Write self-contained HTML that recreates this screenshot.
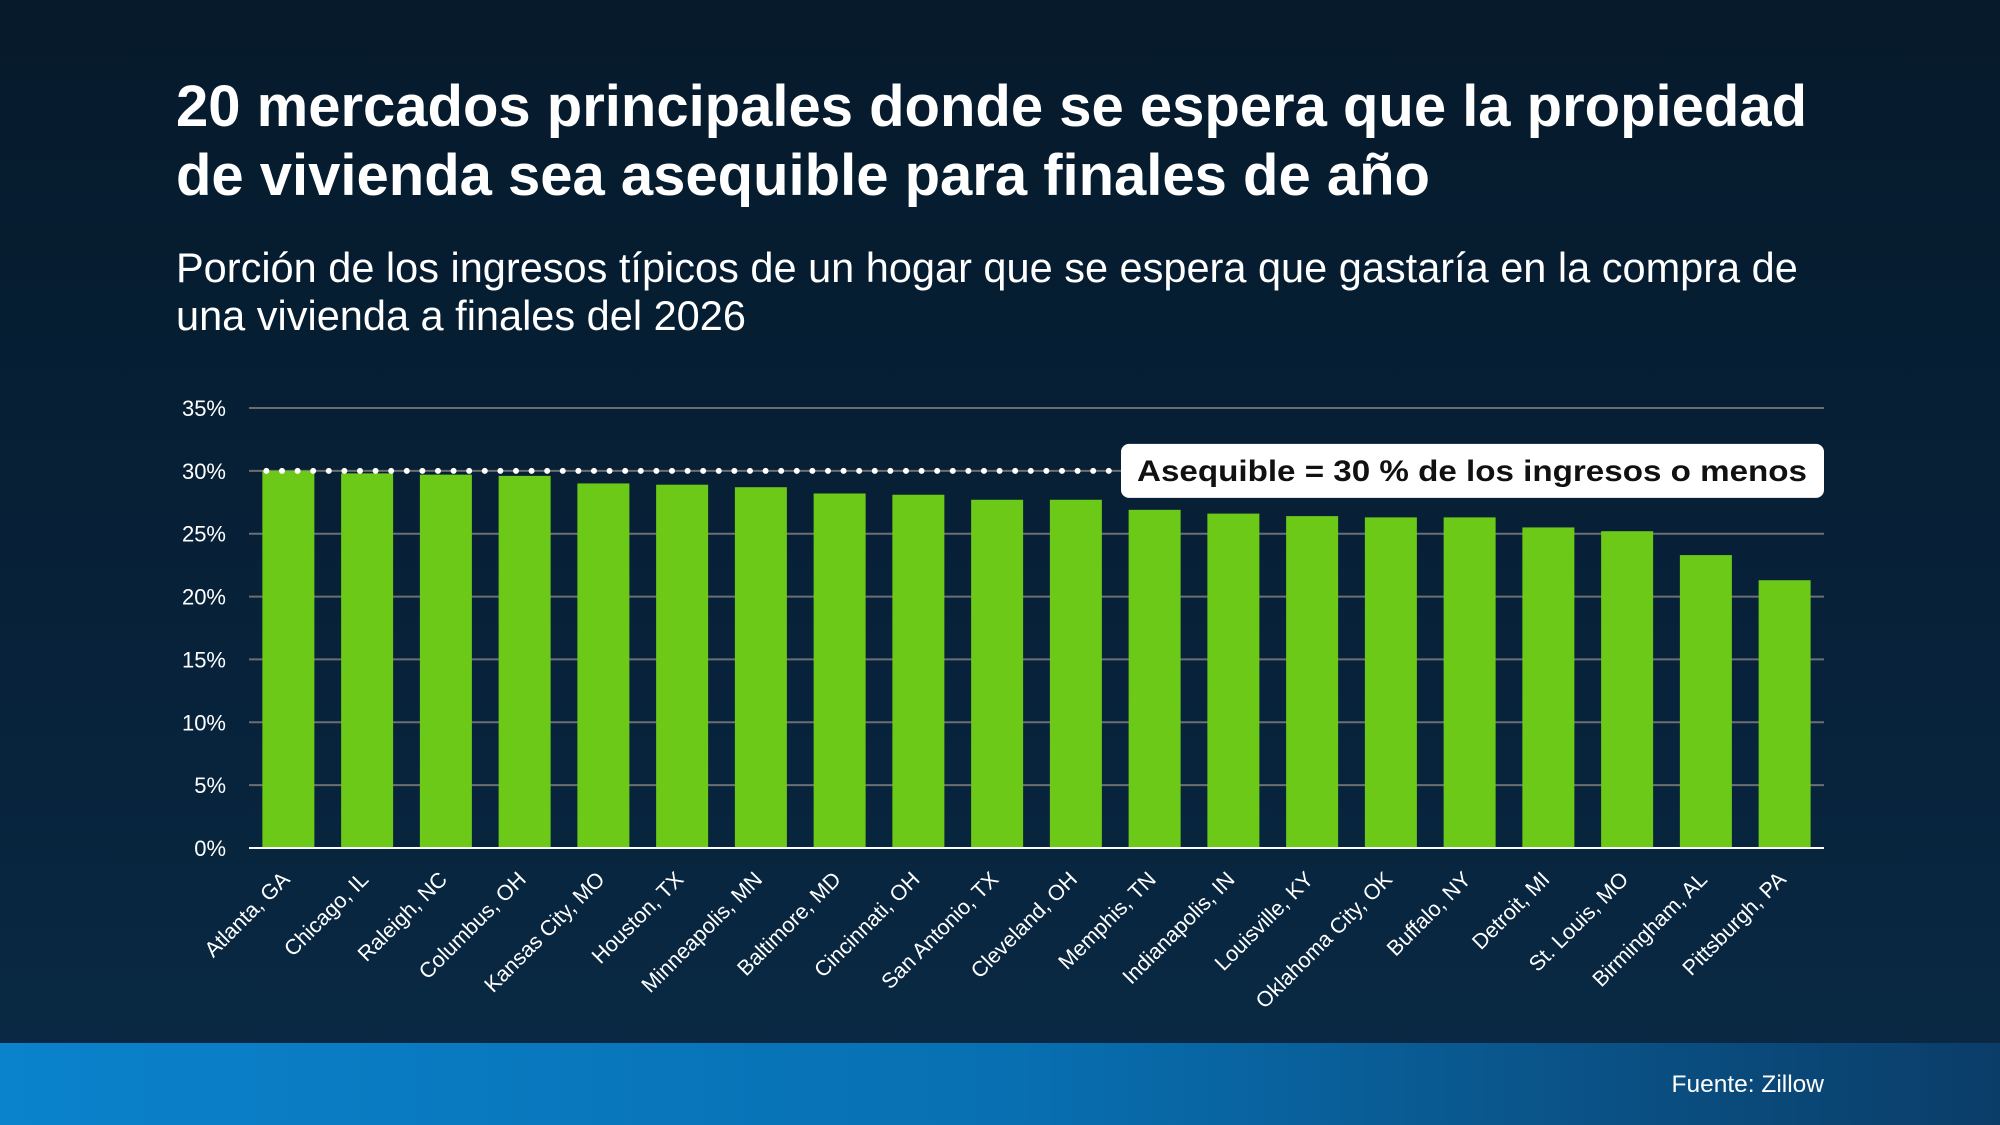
<!DOCTYPE html>
<html><head><meta charset="utf-8">
<style>
html,body{margin:0;padding:0;width:2000px;height:1125px;overflow:hidden;}
body{background:linear-gradient(180deg,#061a2b 0%,#07223a 60%,#0a2a45 100%);font-family:"Liberation Sans",Arial,sans-serif;color:#fff;position:relative;}
.title{position:absolute;left:176px;top:72px;font-size:58px;font-weight:bold;line-height:69px;margin:0;}
.sub{position:absolute;left:176px;top:244px;font-size:41.5px;line-height:48px;margin:0;}
.footer{position:absolute;left:0;top:1043px;width:2000px;height:82px;background:linear-gradient(90deg,#0a82cc 0%,#0870b2 50%,#0b3d68 100%);}
.src{position:absolute;right:176px;top:1071px;font-size:24.5px;}
svg{position:absolute;left:0;top:0;}
</style></head><body>
<h1 class="title">20 mercados principales donde se espera que la propiedad<br>de vivienda sea asequible para finales de año</h1>
<p class="sub">Porción de los ingresos típicos de un hogar que se espera que gastaría en la compra de<br>una vivienda a finales del 2026</p>
<div class="footer"></div>
<div class="src">Fuente: Zillow</div>
<svg id="chart" width="2000" height="1125"></svg>
<script>
const categories=["Atlanta, GA","Chicago, IL","Raleigh, NC","Columbus, OH","Kansas City, MO","Houston, TX","Minneapolis, MN","Baltimore, MD","Cincinnati, OH","San Antonio, TX","Cleveland, OH","Memphis, TN","Indianapolis, IN","Louisville, KY","Oklahoma City, OK","Buffalo, NY","Detroit, MI","St. Louis, MO","Birmingham, AL","Pittsburgh, PA"];
const values=[30.0,29.8,29.7,29.6,29.0,28.9,28.7,28.2,28.1,27.7,27.7,26.9,26.6,26.4,26.3,26.3,25.5,25.2,23.3,21.3];
const yTicks=[0,5,10,15,20,25,30,35];
const threshold=30;
const svg=document.getElementById('chart');
const NS='http://www.w3.org/2000/svg';
const X0=249,X1=1824,Y0=848,Y1=408,YMAX=35;
const y=v=>Y0-(v/YMAX)*(Y0-Y1);
const band=(X1-X0)/categories.length;
const x=i=>X0+band*i+band/2;
const bw=52;
function mk(tag,attrs){const e=document.createElementNS(NS,tag);for(const k in attrs)e.setAttribute(k,attrs[k]);svg.appendChild(e);return e;}
yTicks.forEach(t=>{
  if(t>0){const g=mk('line',{x1:X0,x2:X1,y1:y(t),y2:y(t),stroke:'#6b6f72','stroke-width':2});
  
  }
  const l=mk('text',{x:226,y:y(t)+8,'text-anchor':'end','font-size':22,fill:'#fff','font-family':'Liberation Sans, sans-serif'});
  l.textContent=t+'%';
  
  
});
values.forEach((v,i)=>{
  const r=mk('rect',{x:x(i)-bw/2,y:y(v),width:bw,height:Y0-y(v),fill:'#6cc917'});
  
  
  const cx=x(i)-8,cy=Y0+22;
  const t=mk('text',{x:cx,y:cy,'text-anchor':'end','font-size':21.5,fill:'#fff','font-family':'Liberation Sans, sans-serif',transform:`rotate(-45 ${cx} ${cy})`,dy:'0.7em'});
  t.textContent=categories[i];
  
  
});
const ax=mk('line',{x1:X0,x2:X1,y1:Y0,y2:Y0,stroke:'#ffffff','stroke-width':2});


const dl=mk('line',{x1:x(0)-bw/2+4,x2:1125,y1:y(threshold),y2:y(threshold),stroke:'#fff','stroke-width':6,'stroke-linecap':'round','stroke-dasharray':'0 15.6'});


const box=mk('rect',{x:1121,y:y(threshold)-27,width:703,height:54,rx:8,fill:'#fff'});


const at=mk('text',{x:1472,y:y(threshold)+10,'text-anchor':'middle','font-size':30,'font-weight':'bold',fill:'#111','font-family':'Liberation Sans, sans-serif',textLength:670,lengthAdjust:'spacingAndGlyphs'});
at.textContent='Asequible = 30 % de los ingresos o menos';


</script>
</body></html>
